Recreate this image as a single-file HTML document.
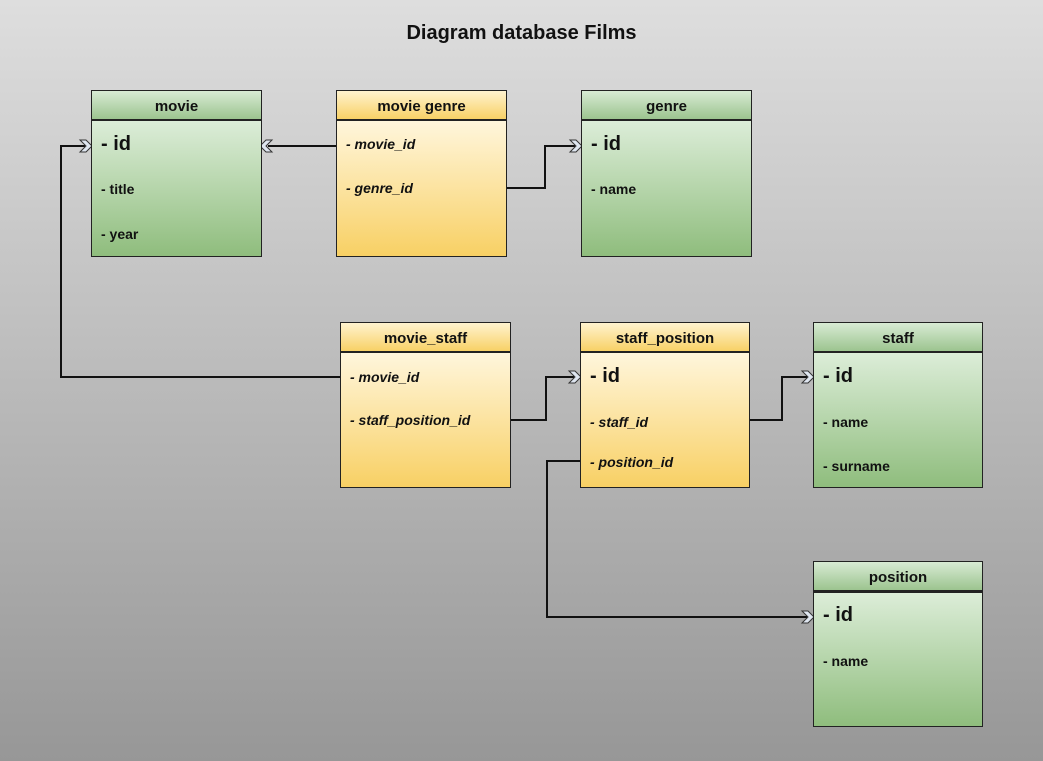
<!DOCTYPE html>
<html><head><meta charset="utf-8"><style>
body{margin:0;width:1043px;height:761px;overflow:hidden;font-family:"Liberation Sans",sans-serif;background:linear-gradient(#dedede,#979797);position:relative}
.t{position:absolute;top:22px;left:0;width:1043px;text-align:center;font-weight:bold;font-size:20px;color:#111}
.h,.b{position:absolute;border:1px solid #222;box-sizing:border-box}
.h{height:31px;text-align:center;font-weight:bold;font-size:15px;line-height:32px;color:#111;border-bottom:2px solid #222}
.g.h{background:linear-gradient(#d8ebd4,#9cc48f)}
.y.h{background:linear-gradient(#fff3cf,#f8d166)}
.g.b{background:linear-gradient(#dcedd8,#8fbd7d)}
.y.b{background:linear-gradient(#fff6dc,#f8d064)}
.f{position:absolute;left:9px;font-weight:bold;font-size:14px;color:#111;white-space:nowrap}
.f.k{font-size:20px}
.i{font-style:italic}
svg{position:absolute;left:0;top:0}
</style></head><body>
<div class="t">Diagram database Films</div>
<svg width="1043" height="761">
<g fill="none" stroke="#111" stroke-width="2">
<polyline points="340,377 61,377 61,146 85,146"/>
<polyline points="336,146 268,146"/>
<polyline points="506,188 545,188 545,146 575,146"/>
<polyline points="510,420 546,420 546,377 574,377"/>
<polyline points="749,420 782,420 782,377 807,377"/>
<polyline points="580,461 547,461 547,617 807,617"/>
</g>
<g fill="#dfe6f0" stroke="#333" stroke-width="1">
<polygon points="80,140 86,140 92,146 86,152 80,152 86,146"/>
<polygon points="272,140 266,140 260,146 266,152 272,152 266,146"/>
<polygon points="570,140 576,140 582,146 576,152 570,152 576,146"/>
<polygon points="569,371 575,371 581,377 575,383 569,383 575,377"/>
<polygon points="802,371 808,371 814,377 808,383 802,383 808,377"/>
<polygon points="802,611 808,611 814,617 808,623 802,623 808,617"/>
</g>
</svg>

<div class="g h" style="left:91px;top:90px;width:171px">movie</div>
<div class="g b" style="left:91px;top:120px;width:171px;height:137px">
<div class="f k" style="top:12px">- id</div><div class="f" style="top:60px">- title</div><div class="f" style="top:105px">- year</div></div>

<div class="y h" style="left:336px;top:90px;width:171px">movie genre</div>
<div class="y b" style="left:336px;top:120px;width:171px;height:137px">
<div class="f i" style="top:15px">- movie_id</div><div class="f i" style="top:59px">- genre_id</div></div>

<div class="g h" style="left:581px;top:90px;width:171px">genre</div>
<div class="g b" style="left:581px;top:120px;width:171px;height:137px">
<div class="f k" style="top:12px">- id</div><div class="f" style="top:60px">- name</div></div>

<div class="y h" style="left:340px;top:322px;width:171px">movie_staff</div>
<div class="y b" style="left:340px;top:352px;width:171px;height:136px">
<div class="f i" style="top:16px">- movie_id</div><div class="f i" style="top:59px">- staff_position_id</div></div>

<div class="y h" style="left:580px;top:322px;width:170px">staff_position</div>
<div class="y b" style="left:580px;top:352px;width:170px;height:136px">
<div class="f k" style="top:12px">- id</div><div class="f i" style="top:61px">- staff_id</div><div class="f i" style="top:101px">- position_id</div></div>

<div class="g h" style="left:813px;top:322px;width:170px">staff</div>
<div class="g b" style="left:813px;top:352px;width:170px;height:136px">
<div class="f k" style="top:12px">- id</div><div class="f" style="top:61px">- name</div><div class="f" style="top:105px">- surname</div></div>

<div class="g h" style="left:813px;top:561px;width:170px">position</div>
<div class="g b" style="left:813px;top:592px;width:170px;height:135px">
<div class="f k" style="top:11px">- id</div><div class="f" style="top:60px">- name</div></div>
</body></html>
